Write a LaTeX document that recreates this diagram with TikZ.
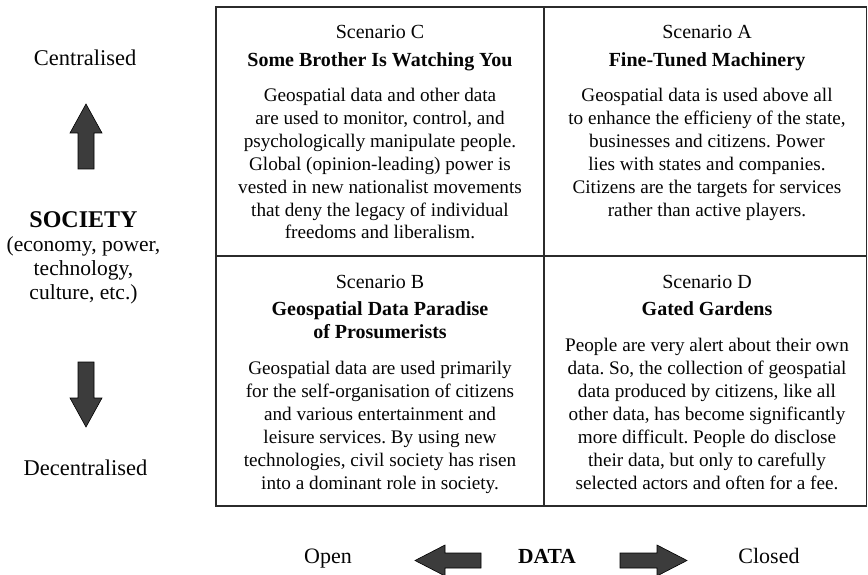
\documentclass[tikz,border=0pt]{standalone}
\usepackage{fontspec}
\setmainfont{Liberation Serif}
\frenchspacing
\definecolor{framegray}{HTML}{2B2B2B}
\definecolor{arrowgray}{HTML}{3C3C3C}
\definecolor{txtblack}{HTML}{050505}
\tikzset{
  frameline/.style={draw=framegray, line width=1.8pt},
  bigarrow/.style={fill=arrowgray, draw=black, line width=0.6pt, line join=miter},
  basetxt/.style={anchor=base, inner sep=0pt, text=txtblack},
  bodytxt/.style={basetxt, font=\fontsize{19.2}{23}\selectfont\frenchspacing},
  scentxt/.style={basetxt, font=\fontsize{20}{24}\selectfont},
  titletxt/.style={basetxt, font=\fontsize{20}{24}\selectfont\bfseries},
  sidetxt/.style={basetxt, font=\fontsize{22.5}{26}\selectfont},
  subtxt/.style={basetxt, font=\fontsize{21.5}{25}\selectfont},
  heavytxt/.style={basetxt, font=\fontsize{24}{28}\selectfont\bfseries},
  axistxt/.style={basetxt, font=\fontsize{22}{26}\selectfont},
  axisbold/.style={basetxt, font=\fontsize{21.5}{26}\selectfont\bfseries}
}
\begin{document}
\begin{tikzpicture}[x=1pt, y=-1pt]
\useasboundingbox (0,0) rectangle (868,575);
\clip (0,0) rectangle (868,575);
\fill[white] (0,0) rectangle (868,575);

% frame
\draw[frameline] (216,7) rectangle (866.5,506);
\draw[frameline] (216,256) -- (866.5,256);
\draw[frameline] (544,7) -- (544,506);

% Scenario C
\node[scentxt] (scC) at (380,38.5) {Scenario C};
\node[titletxt] (tiC) at (380,66.5) {Some Brother Is Watching You};
\foreach \t [count=\i from 0] in {
  {Geospatial data and other data},
  {are used to monitor, control, and},
  {psychologically manipulate people.},
  {Global (opinion-leading) power is},
  {vested in new nationalist movements},
  {that deny the legacy of individual},
  {freedoms and liberalism.}}
  \node[bodytxt] (bC\i) at (380,{102+22.83*\i}) {\t};

% Scenario A
\node[scentxt] (scA) at (707,38.5) {Scenario A};
\node[titletxt] (tiA) at (707,66.5) {Fine-Tuned Machinery};
\foreach \t [count=\i from 0] in {
  {Geospatial data is used above all},
  {to enhance the efficieny of the state,},
  {businesses and citizens. Power},
  {lies with states and companies.},
  {Citizens are the targets for services},
  {rather than active players.}}
  \node[bodytxt] (bA\i) at (707,{101.5+22.9*\i}) {\t};

% Scenario B
\node[scentxt] (scB) at (380,288.5) {Scenario B};
\node[titletxt] (tiB1) at (380,315.5) {Geospatial Data Paradise};
\node[titletxt] (tiB2) at (380,338.5) {of Prosumerists};
\foreach \t [count=\i from 0] in {
  {Geospatial data are used primarily},
  {for the self-organisation of citizens},
  {and various entertainment and},
  {leisure services. By using new},
  {technologies, civil society has risen},
  {into a dominant role in society.}}
  \node[bodytxt] (bB\i) at (380,{374+23*\i}) {\t};

% Scenario D
\node[scentxt] (scD) at (707,288.5) {Scenario D};
\node[titletxt] (tiD) at (707,315.5) {Gated Gardens};
\foreach \t [count=\i from 0] in {
  {People are very alert about their own},
  {data. So, the collection of geospatial},
  {data produced by citizens, like all},
  {other data, has become significantly},
  {more difficult. People do disclose},
  {their data, but only to carefully},
  {selected actors and often for a fee.}}
  \node[bodytxt] (bD\i) at (707,{351+23*\i}) {\t};

% left axis
\node[sidetxt] (cent) at (85,66) {Centralised};
\draw[bigarrow] (86,104) -- (102,133) -- (94,133) -- (94,169) -- (78,169) -- (78,133) -- (70,133) -- cycle;
\node[heavytxt] (soc) at (83.5,227) {SOCIETY};
\node[subtxt] (soc1) at (83.5,251.5) {(economy, power,};
\node[subtxt] (soc2) at (83.5,275) {technology,};
\node[subtxt] (soc3) at (83.5,299) {culture, etc.)};
\draw[bigarrow] (78,362) -- (94,362) -- (94,398) -- (102,398) -- (86,427) -- (70,398) -- (78,398) -- cycle;
\node[sidetxt] (decent) at (85.5,475.5) {Decentralised};

% bottom axis
\node[axistxt] (open) at (328,563) {Open};
\draw[bigarrow] (415,560.5) -- (445,545) -- (445,553) -- (481,553) -- (481,568) -- (445,568) -- (445,576) -- cycle;
\node[axisbold] (data) at (547,563) {DATA};
\draw[bigarrow] (620,553) -- (657,553) -- (657,545) -- (687,560.5) -- (657,576) -- (657,568) -- (620,568) -- cycle;
\node[axistxt] (closed) at (769,563) {Closed};
\end{tikzpicture}
\end{document}
